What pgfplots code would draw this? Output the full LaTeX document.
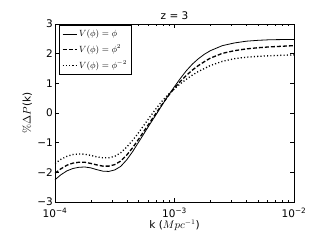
\documentclass[border=0pt]{standalone}
\usepackage[no-math]{fontspec}
\setmainfont{DejaVu Sans}
\usepackage{pgfplots}
\pgfplotsset{compat=1.18}
\begin{document}
\fontsize{10.5bp}{12bp}\selectfont
\begin{tikzpicture}
\useasboundingbox (-55bp,-43bp) rectangle (272bp,202bp);
\begin{axis}[
  at={(0,0)}, anchor=south west,
  scale only axis, width=239bp, height=178bp,
  xmode=log, xmin=1e-4, xmax=1e-2, ymin=-3, ymax=3,
  xtick={1e-4,1e-3,1e-2},
  xticklabels={10\textsuperscript{−4},10\textsuperscript{−3},10\textsuperscript{−2}},
  ytick={-3,-2,-1,0,1,2,3},
  yticklabels={−3,−2,−1,0,1,2,3},
  /pgf/number format/assume math mode=true,
  tick label style={font=\fontsize{10.5bp}{12bp}\selectfont},
  yticklabel style={xshift=1.5bp},
  xticklabel style={yshift=-2bp},
  major tick length=4bp, minor tick length=2bp,
  tick style={black, line width=0.5bp},
  axis line style={line width=0.8bp},
  title={z = 3},
  title style={font=\fontsize{10.5bp}{12bp}\selectfont, yshift=-5bp},
  xlabel={k ($Mpc^{-1}$)},
  ylabel={$\%\Delta P$(k)},
  label style={font=\fontsize{10.5bp}{12bp}\selectfont},
  xlabel style={yshift=4bp},
  ylabel style={yshift=-2bp},
  legend style={at={(0.017,0.993)}, anchor=north west, draw=black, line width=0.6bp,
    font=\fontsize{8.5bp}{10bp}\selectfont, row sep=2.5bp, inner sep=2.5bp},
  legend cell align=left,
  legend image code/.code={\draw[#1] (0bp,0bp) -- (14bp,0bp);},
]
\addplot[black, line width=0.8bp] coordinates {
(1e-4,-2.25) (1.122e-4,-2.08) (1.259e-4,-1.95) (1.413e-4,-1.87) (1.585e-4,-1.83)
(1.778e-4,-1.82) (1.995e-4,-1.85) (2.239e-4,-1.91) (2.512e-4,-1.96) (2.818e-4,-1.97)
(3.162e-4,-1.92) (3.548e-4,-1.80) (3.981e-4,-1.58) (4.467e-4,-1.30) (5.012e-4,-0.98)
(5.623e-4,-0.66) (6.310e-4,-0.34) (7.079e-4,-0.03) (7.943e-4,0.29) (8.913e-4,0.60)
(1e-3,0.89) (1.122e-3,1.17) (1.259e-3,1.43) (1.413e-3,1.65) (1.585e-3,1.83)
(1.778e-3,1.98) (1.995e-3,2.10) (2.512e-3,2.27) (3.162e-3,2.36) (3.981e-3,2.42)
(5.012e-3,2.45) (6.310e-3,2.47) (1e-2,2.48)};
\addlegendentry{$V(\phi) = \phi$}
\addplot[black, line width=1.3bp, dash pattern=on 4bp off 2bp] coordinates {
(1e-4,-2.03) (1.122e-4,-1.88) (1.259e-4,-1.76) (1.413e-4,-1.69) (1.585e-4,-1.66)
(1.778e-4,-1.66) (1.995e-4,-1.70) (2.239e-4,-1.75) (2.512e-4,-1.79) (2.818e-4,-1.79)
(3.162e-4,-1.74) (3.548e-4,-1.62) (3.981e-4,-1.42) (4.467e-4,-1.17) (5.012e-4,-0.88)
(5.623e-4,-0.58) (6.310e-4,-0.28) (7.079e-4,0.02) (7.943e-4,0.31) (8.913e-4,0.59)
(1e-3,0.84) (1.122e-3,1.07) (1.259e-3,1.27) (1.413e-3,1.45) (1.585e-3,1.60)
(1.778e-3,1.73) (1.995e-3,1.85) (2.512e-3,2.01) (3.162e-3,2.10) (3.981e-3,2.16)
(5.012e-3,2.20) (6.310e-3,2.23) (1e-2,2.27)};
\addlegendentry{$V(\phi) = \phi^{2}$}
\addplot[black, line width=1.3bp, dash pattern=on 1.1bp off 2.2bp] coordinates {
(1e-4,-1.70) (1.122e-4,-1.56) (1.259e-4,-1.46) (1.413e-4,-1.40) (1.585e-4,-1.38)
(1.778e-4,-1.39) (1.995e-4,-1.43) (2.239e-4,-1.48) (2.512e-4,-1.51) (2.818e-4,-1.51)
(3.162e-4,-1.46) (3.548e-4,-1.34) (3.981e-4,-1.15) (4.467e-4,-0.92) (5.012e-4,-0.66)
(5.623e-4,-0.38) (6.310e-4,-0.10) (7.079e-4,0.17) (7.943e-4,0.42) (8.913e-4,0.63)
(1e-3,0.82) (1.122e-3,0.99) (1.259e-3,1.14) (1.413e-3,1.28) (1.585e-3,1.40)
(1.778e-3,1.50) (1.995e-3,1.60) (2.512e-3,1.74) (3.162e-3,1.83) (3.981e-3,1.88)
(5.012e-3,1.91) (6.310e-3,1.93) (1e-2,1.96)};
\addlegendentry{$V(\phi) = \phi^{-2}$}
\end{axis}
\end{tikzpicture}
\end{document}
